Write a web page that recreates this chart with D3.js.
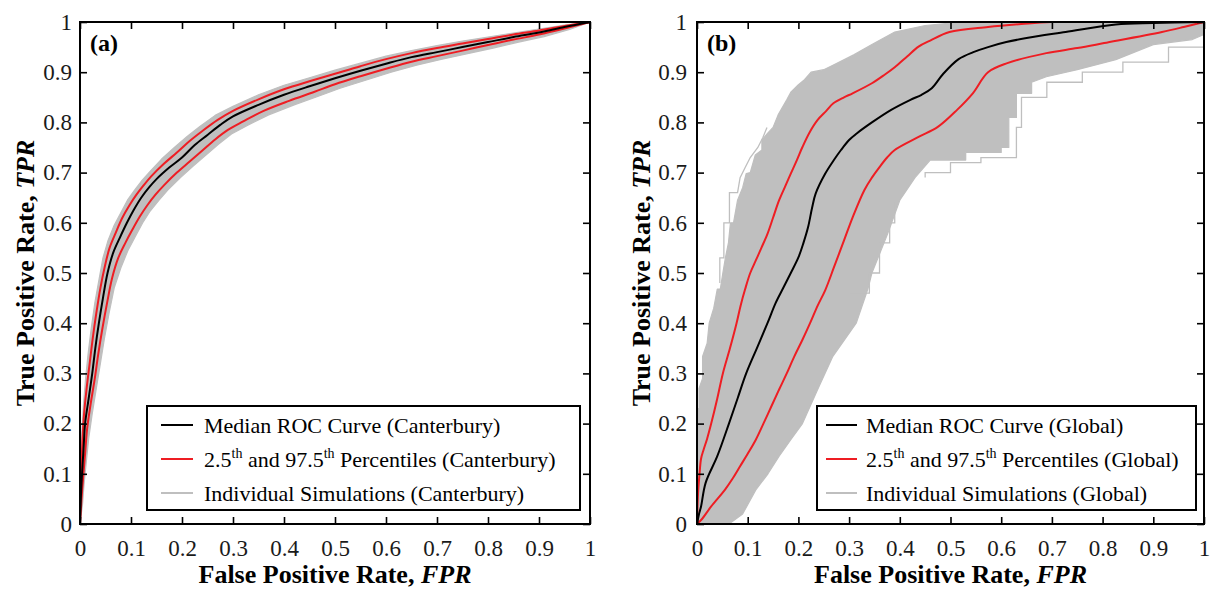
<!DOCTYPE html>
<html>
<head>
<meta charset="utf-8">
<script src="https://cdn.jsdelivr.net/npm/d3@7"></script>
<style>
  body { margin: 0; background: #fff; }
  svg { display: block; font-family: "Liberation Serif", "Times New Roman", serif; }
</style>
</head>
<body>
<svg id="chart" width="1211" height="589"></svg>
<script>
// ---- axis ticks ----
const tickValues = [0, 0.1, 0.2, 0.3, 0.4, 0.5, 0.6, 0.7, 0.8, 0.9, 1];
const tickLabels = ["0", "0.1", "0.2", "0.3", "0.4", "0.5", "0.6", "0.7", "0.8", "0.9", "1"];

// ---- panel (a): Canterbury, points are [FPR, TPR] ----
const medianA = [[0,0],[0.002,0.06],[0.004,0.1],[0.007,0.15],[0.01,0.2],[0.017,0.25],[0.024,0.3],[0.03,0.35],[0.037,0.4],[0.045,0.45],[0.054,0.5],[0.065,0.54],[0.078,0.57],[0.092,0.6],[0.105,0.625],[0.12,0.65],[0.135,0.67],[0.15,0.687],[0.175,0.71],[0.2,0.73],[0.225,0.755],[0.25,0.775],[0.275,0.795],[0.3,0.812],[0.35,0.835],[0.4,0.855],[0.45,0.872],[0.5,0.888],[0.55,0.903],[0.6,0.917],[0.65,0.93],[0.7,0.94],[0.75,0.95],[0.8,0.96],[0.85,0.97],[0.9,0.979],[0.95,0.99],[1,1]];
const upperA = [[0,0],[0.001,0.07],[0.003,0.12],[0.005,0.17],[0.008,0.22],[0.013,0.27],[0.019,0.32],[0.025,0.37],[0.032,0.42],[0.04,0.47],[0.048,0.51],[0.058,0.55],[0.07,0.58],[0.083,0.61],[0.097,0.635],[0.11,0.655],[0.125,0.675],[0.14,0.693],[0.165,0.718],[0.19,0.74],[0.215,0.763],[0.24,0.783],[0.27,0.805],[0.3,0.823],[0.35,0.846],[0.4,0.866],[0.45,0.882],[0.5,0.897],[0.55,0.912],[0.6,0.926],[0.65,0.938],[0.7,0.948],[0.75,0.957],[0.8,0.966],[0.85,0.975],[0.9,0.983],[0.95,0.992],[1,1]];
const lowerA = [[0,0],[0.003,0.05],[0.006,0.09],[0.01,0.14],[0.014,0.19],[0.021,0.24],[0.029,0.29],[0.036,0.34],[0.044,0.39],[0.053,0.44],[0.063,0.49],[0.075,0.53],[0.089,0.56],[0.102,0.585],[0.117,0.612],[0.132,0.635],[0.148,0.656],[0.165,0.675],[0.19,0.7],[0.215,0.722],[0.24,0.744],[0.265,0.766],[0.29,0.785],[0.32,0.802],[0.36,0.823],[0.41,0.843],[0.46,0.861],[0.5,0.876],[0.55,0.892],[0.6,0.907],[0.65,0.921],[0.7,0.932],[0.75,0.943],[0.8,0.954],[0.85,0.965],[0.9,0.975],[0.95,0.987],[1,1]];
// outer edges of the bundle of individual simulations
const simHiA = [[0,0],[0,0.08],[0.002,0.14],[0.004,0.19],[0.007,0.24],[0.011,0.29],[0.016,0.34],[0.022,0.39],[0.029,0.44],[0.036,0.48],[0.045,0.53],[0.055,0.565],[0.067,0.595],[0.08,0.62],[0.093,0.645],[0.107,0.665],[0.122,0.685],[0.137,0.702],[0.16,0.727],[0.185,0.75],[0.21,0.772],[0.235,0.792],[0.265,0.814],[0.3,0.832],[0.35,0.855],[0.4,0.874],[0.45,0.889],[0.5,0.904],[0.55,0.918],[0.6,0.932],[0.65,0.943],[0.7,0.953],[0.75,0.962],[0.8,0.97],[0.85,0.978],[0.9,0.986],[0.95,0.994],[1,1]];
const simLoA = [[0,0],[0.005,0.04],[0.008,0.08],[0.012,0.12],[0.017,0.17],[0.024,0.22],[0.032,0.27],[0.04,0.32],[0.048,0.37],[0.057,0.42],[0.067,0.47],[0.08,0.51],[0.094,0.545],[0.108,0.572],[0.123,0.6],[0.138,0.624],[0.155,0.645],[0.172,0.665],[0.197,0.69],[0.222,0.713],[0.247,0.735],[0.272,0.757],[0.297,0.777],[0.33,0.795],[0.37,0.815],[0.42,0.835],[0.47,0.853],[0.51,0.868],[0.56,0.884],[0.61,0.9],[0.66,0.914],[0.71,0.926],[0.76,0.937],[0.81,0.948],[0.86,0.96],[0.91,0.971],[0.96,0.985],[1,1]];

// ---- panel (b): Global ----
const medianB = [[0,0],[0.004,0.02],[0.008,0.035],[0.017,0.082],[0.04,0.135],[0.063,0.2],[0.08,0.25],[0.097,0.3],[0.118,0.35],[0.139,0.4],[0.155,0.44],[0.17,0.47],[0.185,0.5],[0.2,0.531],[0.21,0.56],[0.219,0.591],[0.227,0.63],[0.234,0.658],[0.253,0.698],[0.27,0.725],[0.284,0.745],[0.3,0.765],[0.315,0.778],[0.345,0.8],[0.383,0.825],[0.421,0.845],[0.443,0.855],[0.463,0.868],[0.485,0.896],[0.516,0.926],[0.545,0.94],[0.574,0.95],[0.61,0.96],[0.65,0.968],[0.727,0.98],[0.826,0.995],[0.9,0.998],[1,1]];
const upperB = [[0,0],[0.002,0.06],[0.005,0.1],[0.008,0.13],[0.013,0.148],[0.02,0.17],[0.028,0.2],[0.04,0.25],[0.051,0.3],[0.065,0.35],[0.078,0.4],[0.086,0.435],[0.095,0.468],[0.105,0.5],[0.116,0.525],[0.127,0.55],[0.139,0.578],[0.15,0.61],[0.162,0.645],[0.175,0.675],[0.185,0.698],[0.197,0.725],[0.208,0.751],[0.222,0.78],[0.238,0.805],[0.255,0.823],[0.269,0.838],[0.29,0.85],[0.307,0.858],[0.345,0.878],[0.37,0.895],[0.39,0.91],[0.415,0.932],[0.437,0.951],[0.46,0.963],[0.498,0.98],[0.574,0.99],[0.64,0.996],[0.7,1],[1,1]];
const lowerB = [[0,0],[0.009,0.009],[0.028,0.035],[0.055,0.068],[0.07,0.09],[0.085,0.115],[0.1,0.14],[0.116,0.168],[0.131,0.2],[0.147,0.235],[0.162,0.268],[0.177,0.3],[0.192,0.334],[0.208,0.367],[0.223,0.4],[0.238,0.435],[0.253,0.466],[0.27,0.511],[0.29,0.565],[0.307,0.611],[0.33,0.665],[0.345,0.69],[0.36,0.711],[0.375,0.73],[0.39,0.745],[0.437,0.771],[0.475,0.791],[0.513,0.825],[0.544,0.858],[0.574,0.9],[0.612,0.918],[0.689,0.938],[0.75,0.948],[0.803,0.958],[0.917,0.98],[0.96,0.99],[1,1]];
const simHiB = [[0,0],[0,0.23],[0.004,0.23],[0.004,0.27],[0.011,0.29],[0.011,0.334],[0.02,0.36],[0.024,0.4],[0.033,0.43],[0.04,0.468],[0.046,0.468],[0.051,0.5],[0.056,0.53],[0.062,0.56],[0.066,0.6],[0.072,0.6],[0.08,0.645],[0.09,0.67],[0.097,0.698],[0.105,0.7],[0.115,0.735],[0.128,0.745],[0.128,0.765],[0.139,0.778],[0.15,0.79],[0.16,0.815],[0.177,0.845],[0.185,0.86],[0.2,0.875],[0.212,0.885],[0.225,0.9],[0.25,0.905],[0.27,0.915],[0.31,0.935],[0.345,0.955],[0.39,0.98],[0.45,0.993],[0.52,1],[1,1]];
const simLoB = [[0,0],[0.063,0],[0.09,0.02],[0.116,0.068],[0.14,0.1],[0.162,0.135],[0.185,0.168],[0.208,0.2],[0.238,0.268],[0.268,0.334],[0.314,0.4],[0.337,0.468],[0.345,0.5],[0.376,0.578],[0.4,0.645],[0.43,0.69],[0.46,0.725],[0.53,0.725],[0.53,0.74],[0.6,0.74],[0.6,0.75],[0.615,0.75],[0.615,0.81],[0.63,0.81],[0.63,0.858],[0.66,0.858],[0.66,0.88],[0.689,0.891],[0.75,0.905],[0.826,0.925],[0.9,0.955],[0.977,0.965],[1,0.975],[1,1]];
// a few single simulations that stray outside the main bundle
const strayB1 = [[0.045,0.48],[0.045,0.53],[0.053,0.53],[0.053,0.6],[0.064,0.6],[0.064,0.66],[0.08,0.66],[0.085,0.69],[0.095,0.71],[0.105,0.73],[0.12,0.75],[0.13,0.77],[0.138,0.79]];
const strayB2 = [[0.45,0.69],[0.45,0.7],[0.5,0.7],[0.5,0.72],[0.56,0.72],[0.56,0.73],[0.63,0.73],[0.63,0.79],[0.64,0.79],[0.64,0.85],[0.69,0.85],[0.69,0.88],[0.76,0.88],[0.76,0.9],[0.84,0.9],[0.84,0.92],[0.93,0.92],[0.93,0.95],[1,0.95]];
const strayB3 = [[0.3,0.46],[0.34,0.46],[0.34,0.5],[0.36,0.5],[0.36,0.56],[0.38,0.56],[0.38,0.6],[0.39,0.6],[0.39,0.64]];

// ---- legend texts ----
const legendA = [
  ["Median ROC Curve (Canterbury)"],
  ["2.5", "th", " and 97.5", "th", " Percentiles (Canterbury)"],
  ["Individual Simulations (Canterbury)"]
];
const legendB = [
  ["Median ROC Curve (Global)"],
  ["2.5", "th", " and 97.5", "th", " Percentiles (Global)"],
  ["Individual Simulations (Global)"]
];

const GREY = "#bfbfbf", RED = "#ee1d23", BLACK = "#000";

const svg = d3.select("#chart");

function drawPanel(opt) {
  const x = d3.scaleLinear().domain([0, 1]).range([opt.left, opt.right]);
  const y = d3.scaleLinear().domain([0, 1]).range([opt.bottom, opt.top]);
  const g = svg.append("g");
  const line = d3.line().x(d => x(d[0])).y(d => y(d[1]));
  const smooth = d3.line().x(d => x(d[0])).y(d => y(d[1])).curve(d3.curveCatmullRom.alpha(0.5));

  const clip = "clip-" + opt.id;
  svg.append("clipPath").attr("id", clip).append("rect")
    .attr("x", opt.left).attr("y", opt.top - 1)
    .attr("width", opt.right - opt.left + 1).attr("height", opt.bottom - opt.top + 1);
  const plot = g.append("g").attr("clip-path", `url(#${clip})`);

  // band of individual simulations
  const band = opt.simHi.concat(opt.simLo.slice().reverse());
  plot.append("path").attr("d", line(band) + "Z")
    .attr("fill", GREY).attr("stroke", GREY).attr("stroke-width", 1.2)
    .attr("stroke-linejoin", "round");
  (opt.strays || []).forEach(s => {
    plot.append("path").attr("d", line(s)).attr("fill", "none")
      .attr("stroke", GREY).attr("stroke-width", 1.3);
  });

  // percentile curves and median
  [opt.upper, opt.lower].forEach(s => {
    plot.append("path").attr("d", smooth(s)).attr("fill", "none")
      .attr("stroke", RED).attr("stroke-width", 2);
  });
  plot.append("path").attr("d", smooth(opt.median)).attr("fill", "none")
    .attr("stroke", BLACK).attr("stroke-width", 2);

  // axes, ticks point inward on all four sides
  const fmt = (d, i) => tickLabels[i];
  const styleAxis = (sel, labels) => {
    sel.select(".domain").remove();
    sel.selectAll(".tick line").attr("stroke", "#000").attr("stroke-width", 1.6);
    sel.selectAll(".tick text").attr("font-family", "Liberation Serif, serif")
      .attr("font-size", 23).attr("fill", "#1a1a1a");
    if (!labels) sel.selectAll(".tick text").remove();
  };
  g.append("g").attr("transform", `translate(0,${opt.bottom})`)
    .call(d3.axisBottom(x).tickValues(tickValues).tickFormat(fmt).tickSize(-7).tickPadding(16))
    .call(s => styleAxis(s, true));
  g.append("g").attr("transform", `translate(0,${opt.top})`)
    .call(d3.axisTop(x).tickValues(tickValues).tickSize(-7))
    .call(s => styleAxis(s, false));
  g.append("g").attr("transform", `translate(${opt.left},0)`)
    .call(d3.axisLeft(y).tickValues(tickValues).tickFormat(fmt).tickSize(-7).tickPadding(opt.yPad))
    .call(s => styleAxis(s, true));
  g.append("g").attr("transform", `translate(${opt.right},0)`)
    .call(d3.axisRight(y).tickValues(tickValues).tickSize(-7))
    .call(s => styleAxis(s, false));

  g.append("rect").attr("x", opt.left).attr("y", opt.top)
    .attr("width", opt.right - opt.left).attr("height", opt.bottom - opt.top)
    .attr("fill", "none").attr("stroke", "#000").attr("stroke-width", 2);

  // panel tag
  g.append("text").attr("x", opt.left + 10).attr("y", opt.top + 29)
    .attr("font-size", 24).attr("font-weight", "bold").text(opt.tag);

  // axis titles
  const xt = g.append("text").attr("x", (opt.left + opt.right) / 2).attr("y", 583)
    .attr("text-anchor", "middle").attr("font-size", 26).attr("font-weight", "bold");
  xt.append("tspan").text("False Positive Rate, ");
  xt.append("tspan").attr("font-style", "italic").text("FPR");
  const yt = g.append("text")
    .attr("transform", `translate(${opt.yTitleX},${(opt.top + opt.bottom) / 2}) rotate(-90)`)
    .attr("text-anchor", "middle").attr("font-size", 26).attr("font-weight", "bold");
  yt.append("tspan").text("True Positive Rate, ");
  yt.append("tspan").attr("font-style", "italic").text("TPR");

  // legend
  const L = opt.legend;
  const lg = g.append("g");
  lg.append("rect").attr("x", L.x).attr("y", L.y).attr("width", L.w).attr("height", L.h)
    .attr("fill", "#fff").attr("stroke", "#000").attr("stroke-width", 2);
  const colors = [BLACK, RED, GREY];
  opt.legendTexts.forEach((parts, i) => {
    const cy = L.y + 19 + i * 34;
    lg.append("line").attr("x1", L.x + L.s0).attr("x2", L.x + L.s1)
      .attr("y1", cy).attr("y2", cy).attr("stroke", colors[i]).attr("stroke-width", 2);
    const t = lg.append("text").attr("x", L.x + L.t0).attr("y", cy + 8).attr("font-size", 22);
    parts.forEach((p, j) => {
      const isSup = p === "th";
      const ts = t.append("tspan").text(p);
      if (isSup) ts.attr("font-size", 14).attr("dy", -9);
      else if (j > 0) ts.attr("dy", 9);
    });
  });
}

drawPanel({
  id: "a", tag: "(a)", left: 80, right: 590, top: 22, bottom: 524, yPad: 8, yTitleX: 34,
  median: medianA, upper: upperA, lower: lowerA, simHi: simHiA, simLo: simLoA,
  legend: { x: 147, y: 406, w: 433, h: 104, s0: 14, s1: 46, t0: 57 },
  legendTexts: legendA
});
drawPanel({
  id: "b", tag: "(b)", left: 697, right: 1204, top: 22, bottom: 524, yPad: 10, yTitleX: 650,
  median: medianB, upper: upperB, lower: lowerB, simHi: simHiB, simLo: simLoB,
  strays: [strayB1, strayB2, strayB3],
  legend: { x: 817, y: 406, w: 379, h: 104, s0: 9, s1: 40, t0: 49 },
  legendTexts: legendB
});
</script>
</body>
</html>
